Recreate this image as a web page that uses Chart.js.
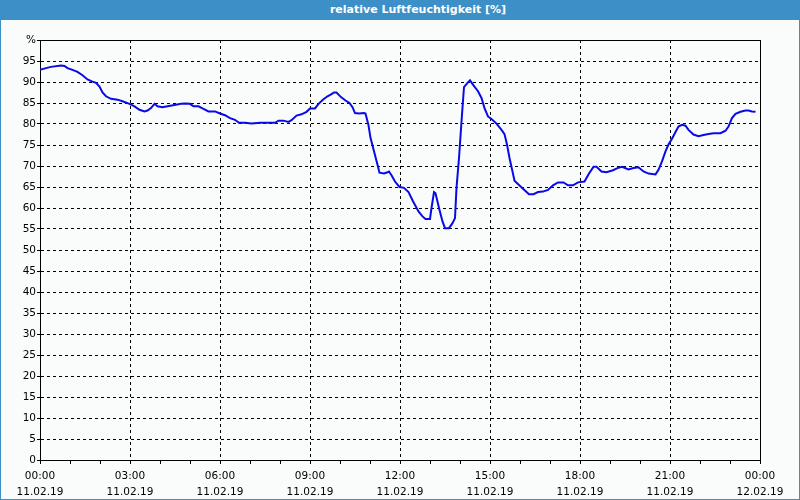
<!DOCTYPE html>
<html>
<head>
<meta charset="utf-8">
<script src="https://cdn.jsdelivr.net/npm/chart.js@4"></script>
<style>
    html, body { margin: 0; padding: 0; background: #f9fcfa; }
    #wrap { position: relative; width: 800px; height: 500px; overflow: hidden; }
    #chart { position: absolute; left: 0; top: 0; }
    #titleBar {
        position: absolute; left: 0; top: 0; width: 800px; height: 20px;
        background: #3d8fc7; color: #ffffff;
        font: bold 11px "DejaVu Sans", sans-serif;
        line-height: 20px; text-align: center; text-indent: 36px;
    }
    #frame {
        position: absolute; left: 0; top: 0; width: 800px; height: 500px;
        box-sizing: border-box; border: 1px solid #3d8fc7; pointer-events: none;
    }
</style>
</head>
<body>
<div id="wrap">
    <canvas id="chart" width="800" height="500"></canvas>
    <div id="titleBar">relative Luftfeuchtigkeit [%]</div>
    <div id="frame"></div>
</div>
<script>
// minutes since 11.02.19 00:00
const times = [
    0, 12, 22, 42, 49, 55, 65, 75, 85, 95, 105, 112, 119, 125, 132, 142, 155, 165, 179, 189,
    199, 209, 215, 222, 229, 235, 245, 255, 269, 282, 291, 300, 307, 317, 327, 337, 350, 360, 370, 380,
    390, 398, 410, 423, 440, 457, 470, 477, 487, 497, 503, 513, 523, 533, 540, 550, 557, 567, 575, 583,
    588, 593, 602, 611, 619, 625, 630, 638, 648, 651, 657, 661, 668, 675, 679, 688, 695, 698, 703, 710,
    719, 728, 737, 746, 757, 765, 771, 780, 783, 788, 791, 798, 805, 810, 818, 825, 830, 833, 838, 843,
    848, 855, 860, 867, 876, 883, 889, 896, 903, 913, 923, 929, 934, 939, 945, 949, 958, 966, 978, 987,
    996, 1006, 1016, 1026, 1036, 1047, 1056, 1066, 1076, 1089, 1098, 1107, 1113, 1123, 1133, 1146, 1155, 1164, 1177, 1187,
    1197, 1207, 1217, 1231, 1237, 1244, 1251, 1257, 1264, 1271, 1277, 1284, 1291, 1297, 1307, 1317, 1327, 1337, 1347, 1361,
    1371, 1377, 1384, 1391, 1401, 1411, 1417, 1424, 1431
];

const humidity = [
    92.9, 93.3, 93.6, 93.9, 93.8, 93.3, 92.9, 92.4, 91.6, 90.6, 90.1, 89.8, 88.9, 87.5, 86.6, 86.0, 85.8, 85.4, 84.8, 84.2,
    83.4, 83.0, 83.2, 83.8, 84.8, 84.2, 84.0, 84.2, 84.5, 84.8, 84.9, 84.8, 84.2, 84.2, 83.6, 83.0, 83.0, 82.5, 82.1, 81.4,
    81.0, 80.3, 80.3, 80.1, 80.3, 80.3, 80.3, 80.8, 80.8, 80.5, 80.9, 82.0, 82.3, 82.9, 83.7, 83.7, 84.8, 85.9, 86.6, 87.1,
    87.5, 87.5, 86.4, 85.6, 85.0, 84.0, 82.6, 82.5, 82.6, 82.5, 79.7, 76.7, 73.5, 70.3, 68.4, 68.2, 68.5, 68.7, 67.8, 66.3,
    65.0, 64.8, 63.8, 61.6, 59.2, 58.0, 57.4, 57.4, 60.0, 63.8, 63.5, 60.0, 56.8, 55.2, 55.2, 56.4, 57.6, 64.8, 71.9, 80.6,
    88.8, 89.8, 90.4, 89.2, 87.8, 86.2, 83.8, 81.8, 81.2, 80.1, 78.6, 77.6, 75.1, 71.9, 68.7, 66.5, 65.5, 64.6, 63.3, 63.3,
    63.8, 63.9, 64.3, 65.4, 66.1, 66.1, 65.4, 65.4, 66.1, 66.3, 68.2, 69.8, 69.8, 68.7, 68.5, 69.0, 69.5, 69.8, 69.2, 69.5,
    69.7, 68.7, 68.2, 68.0, 69.1, 71.1, 73.5, 75.1, 76.5, 78.1, 79.4, 79.8, 79.6, 78.6, 77.5, 77.1, 77.4, 77.6, 77.8, 77.8,
    78.4, 79.4, 81.4, 82.4, 82.9, 83.2, 83.2, 83.0, 82.9
];

const timeLabels = ['00:00', '03:00', '06:00', '09:00', '12:00', '15:00', '18:00', '21:00', '00:00'];
const dateLabels = ['11.02.19', '11.02.19', '11.02.19', '11.02.19', '11.02.19', '11.02.19', '11.02.19', '11.02.19', '12.02.19'];

const points = times.map((t, i) => ({ x: t, y: humidity[i] }));

// solid frame round the plot area (top and right side)
const plotFrame = {
    id: 'plotFrame',
    beforeDatasetsDraw(chart) {
        const { ctx, chartArea } = chart;
        ctx.save();
        ctx.strokeStyle = '#000000';
        ctx.lineWidth = 1;
        ctx.strokeRect(chartArea.left + 0.5, chartArea.top + 0.5,
            chartArea.right - chartArea.left, chartArea.bottom - chartArea.top);
        ctx.restore();
    }
};

const tickFont = { family: '"DejaVu Sans", sans-serif', size: 10.5, lineHeight: 1.55 };

const config = {
    type: 'line',
    data: {
        datasets: [{
            data: points,
            borderColor: '#0a0ae6',
            borderWidth: 2,
            pointRadius: 0,
            tension: 0,
            fill: false
        }]
    },
    options: {
        responsive: false,
        animation: false,
        layout: { padding: { left: 0, top: 40, right: 40, bottom: 0 } },
        plugins: {
            legend: { display: false },
            tooltip: { enabled: false }
        },
        scales: {
            x: {
                type: 'linear',
                min: 0,
                max: 1440,
                afterFit(scale) { scale.height = 40; },
                ticks: {
                    stepSize: 60,
                    autoSkip: false,
                    maxRotation: 0,
                    padding: 4,
                    color: '#000000',
                    font: tickFont,
                    callback: (v) => v % 180 === 0 ? [timeLabels[v / 180], dateLabels[v / 180]] : ''
                },
                grid: {
                    color: (c) => c.tick && c.tick.value % 180 === 0 ? '#000000' : 'rgba(0,0,0,0)',
                    tickColor: '#000000',
                    tickLength: 4,
                    tickBorderDash: []
                },
                border: { color: '#000000', dash: [3, 3] }
            },
            y: {
                min: 0,
                max: 100,
                afterFit(scale) { scale.width = 40; },
                ticks: {
                    stepSize: 5,
                    padding: 1,
                    color: '#000000',
                    font: tickFont,
                    callback: (v) => v === 100 ? '%' : v
                },
                grid: {
                    color: '#000000',
                    tickColor: '#000000',
                    tickLength: 3,
                    tickBorderDash: []
                },
                border: { color: '#000000', dash: [3, 3] }
            }
        }
    },
    plugins: [plotFrame]
};

const chart = new Chart(document.getElementById('chart'), config);
</script>
</body>
</html>
